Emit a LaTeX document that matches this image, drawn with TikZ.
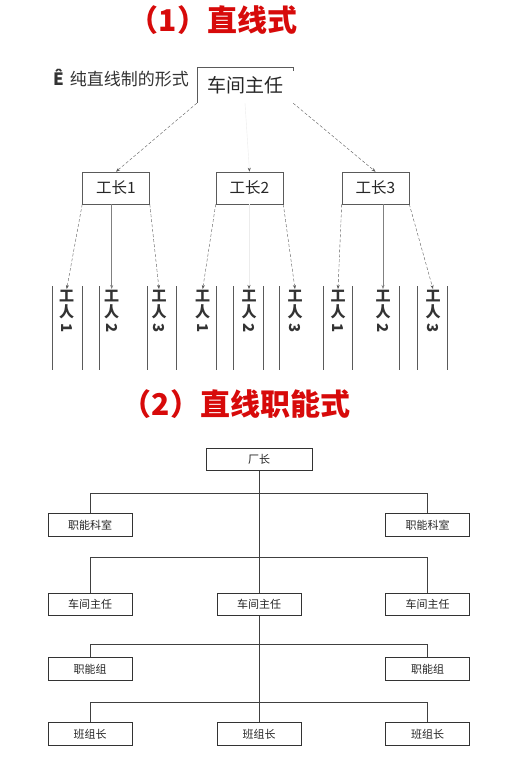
\documentclass[tikz,border=0pt]{standalone}
\usepackage{fontspec}
\setmainfont{Liberation Serif}
\newfontfamily\cjk{Noto Sans CJK SC}
\usetikzlibrary{arrows.meta}
\definecolor{titlered}{RGB}{215,10,10}
\definecolor{linegray}{RGB}{90,90,90}
\tikzset{
  title/.style={font=\cjk\bfseries\fontsize{30}{30}\selectfont, text=titlered, inner sep=0pt},
  fbox/.style={draw=linegray, line width=0.6pt, minimum width=67pt, minimum height=32pt, inner sep=0pt,
    font=\cjk\fontsize{15.5}{15.5}\selectfont, text=black!85},
  worker/.style={anchor=north, inner sep=1pt, align=center, font=\cjk\bfseries\fontsize{15}{16}\selectfont, text=black!80},
  dasharrow/.style={draw=linegray, line width=0.4pt, dash pattern=on 3pt off 2pt, -{Stealth[length=4pt,width=3pt]}},
  solidarrow/.style={draw=gray, line width=0.5pt, -{Stealth[length=4pt,width=3pt]}},
  faintarrow/.style={draw=gray!15, line width=0.4pt, -{Stealth[length=4pt,width=3pt,color=linegray]}},
  wline/.style={draw=linegray, line width=0.5pt},
  obox/.style={draw=black!80, line width=0.7pt, minimum width=84pt, minimum height=22.5pt, inner sep=0pt,
    font=\cjk\fontsize{11}{11}\selectfont, text=black!85},
  tline/.style={draw=black!75, line width=0.7pt}
}
\begin{document}
\begin{tikzpicture}[x=1pt,y=-1pt]
\useasboundingbox (0,0) rectangle (527,759);
\fill[white] (0,0) rectangle (527,759);

% ---------- Part 1 ----------
\node[title] (t1) at (213,20) {（1）直线式};
\node[font=\cjk\fontsize{17}{17}\selectfont, text=black!80, inner sep=0pt, anchor=west] (sub) at (53,78) {{\bfseries Ê}\hspace{6pt}纯直线制的形式};

\node[minimum width=96pt, minimum height=36pt, inner sep=0pt, font=\cjk\fontsize{19}{19}\selectfont, text=black!85] (boss) at (245,85) {车间主任};
\draw[wline] (boss.south west) -- (boss.north west) -- (boss.north east) -- ++(0,4);

\node[fbox] (g1) at (116,188) {工长1};
\node[fbox] (g2) at (249.5,188) {工长2};
\node[fbox] (g3) at (375.5,188) {工长3};

\draw[dasharrow] (boss.south west) -- (g1.north);
\draw[faintarrow] (boss.south) -- (g2.north);
\draw[dasharrow] (boss.south east) -- (g3.north);

% workers
\node[worker] (w11) at (66.7,289) {工\\人\\\rotatebox[origin=c]{-90}{1}};
\node[worker] (w12) at (111.7,289) {工\\人\\\rotatebox[origin=c]{-90}{2}};
\node[worker] (w13) at (159,289) {工\\人\\\rotatebox[origin=c]{-90}{3}};
\node[worker] (w21) at (202.7,289) {工\\人\\\rotatebox[origin=c]{-90}{1}};
\node[worker] (w22) at (249,289) {工\\人\\\rotatebox[origin=c]{-90}{2}};
\node[worker] (w23) at (295,289) {工\\人\\\rotatebox[origin=c]{-90}{3}};
\node[worker] (w31) at (338,289) {工\\人\\\rotatebox[origin=c]{-90}{1}};
\node[worker] (w32) at (383,289) {工\\人\\\rotatebox[origin=c]{-90}{2}};
\node[worker] (w33) at (433,289) {工\\人\\\rotatebox[origin=c]{-90}{3}};

\foreach \x in {52,82,99,147,176,216,233,263,279,323,352,399,417,447}
  \draw[wline] (\x,286) -- (\x,370);

\draw[dasharrow] (g1.south west) -- (w11.north);
\draw[solidarrow] (w12.north |- g1.south) -- (w12.north);
\draw[dasharrow] (g1.south east) -- (w13.north);
\draw[dasharrow] (g2.south west) -- (w21.north);
\draw[faintarrow] (w22.north |- g2.south) -- (w22.north);
\draw[dasharrow] (g2.south east) -- (w23.north);
\draw[dasharrow] (g3.south west) -- (w31.north);
\draw[solidarrow] (w32.north |- g3.south) -- (w32.north);
\draw[dasharrow] (g3.south east) -- (w33.north);

% ---------- Part 2 ----------
\node[title] (t2) at (236,404) {（2）直线职能式};

\node[obox, minimum width=106pt] (cz) at (259,459.5) {厂长};
\node[obox] (zk1) at (90,525) {职能科室};
\node[obox] (zk2) at (427.5,525) {职能科室};
\node[obox] (cj1) at (90,604.5) {车间主任};
\node[obox] (cj2) at (259,604.5) {车间主任};
\node[obox] (cj3) at (427.5,604.5) {车间主任};
\node[obox] (zn1) at (90,669) {职能组};
\node[obox] (zn2) at (427.5,669) {职能组};
\node[obox] (bz1) at (90,734) {班组长};
\node[obox] (bz2) at (259,734) {班组长};
\node[obox] (bz3) at (427.5,734) {班组长};

\coordinate (b1) at (259,493);
\coordinate (b2) at (259,557);
\coordinate (b3) at (259,644);
\coordinate (b4) at (259,702);

\draw[tline] (cz.south) -- (cj2.north);
\draw[tline] (cj2.south) -- (bz2.north);
\draw[tline] (zk1.north) -- (zk1.north |- b1) -- (zk2.north |- b1) -- (zk2.north);
\draw[tline] (cj1.north) -- (cj1.north |- b2) -- (cj3.north |- b2) -- (cj3.north);
\draw[tline] (zn1.north) -- (zn1.north |- b3) -- (zn2.north |- b3) -- (zn2.north);
\draw[tline] (bz1.north) -- (bz1.north |- b4) -- (bz3.north |- b4) -- (bz3.north);
\end{tikzpicture}
\end{document}
